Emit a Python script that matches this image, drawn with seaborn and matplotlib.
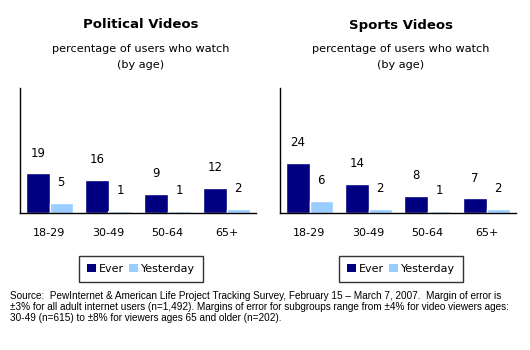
import matplotlib
matplotlib.use("Agg")
import matplotlib.pyplot as plt
import seaborn as sns
import pandas as pd
from matplotlib.patches import Patch

ages = ["18-29", "30-49", "50-64", "65+"]
series = ["Ever", "Yesterday"]
political_ever = [19, 16, 9, 12]
political_yesterday = [5, 1, 1, 2]
sports_ever = [24, 14, 8, 7]
sports_yesterday = [6, 2, 1, 2]
titles = ["Political Videos", "Sports Videos"]
subtitle = "percentage of users who watch\n(by age)"
source = ("Source:  PewInternet & American Life Project Tracking Survey, February 15 \u2013 March 7, 2007.  Margin of error is\n"
          "\u00b13% for all adult internet users (n=1,492). Margins of error for subgroups range from \u00b14% for video viewers ages:\n"
          "30-49 (n=615) to \u00b18% for viewers ages 65 and older (n=202).")

colors = ["#000080", "#99CCFF"]

sns.set_theme(style="white")
plt.rcParams['font.family'] = ['DejaVu Sans']
plt.rcParams['text.color'] = 'black'
plt.rcParams['xtick.color'] = 'black'

fig = plt.figure(figsize=(5.3, 3.5), dpi=100)

panels = [(political_ever, political_yesterday), (sports_ever, sports_yesterday)]
lefts = [20 / 530, 280 / 530]
width = 236 / 530
bottom = 1 - 213 / 350
height = 125 / 350

for i, (ever, yest) in enumerate(panels):
    df = pd.DataFrame({
        "age": ages * 2,
        "series": [series[0]] * 4 + [series[1]] * 4,
        "value": ever + yest,
    })
    ax = fig.add_axes([lefts[i], bottom, width, height])
    sns.barplot(data=df, x="age", y="value", hue="series", palette=colors,
                width=0.78, ax=ax, saturation=1, legend=False, order=ages,
                hue_order=series)
    for c in ax.containers:
        ax.bar_label(c, labels=[f"{v:g}" for v in c.datavalues], padding=10,
                     fontsize=8.5, color="black")
    ax.set_ylim(0, 60)
    ax.set_xlim(-0.5, 3.5)
    ax.set_xlabel("")
    ax.set_ylabel("")
    ax.set_yticks([])
    ax.tick_params(axis="x", length=0, pad=11, labelsize=8, colors="black")
    for s in ["top", "right"]:
        ax.spines[s].set_visible(False)
    for s in ["left", "bottom"]:
        ax.spines[s].set_color("black")
        ax.spines[s].set_linewidth(1.0)
    cx = lefts[i] + width / 2 + 3 / 530
    fig.text(cx, 1 - 25 / 350, titles[i], ha="center", va="center",
             fontsize=9.5, fontweight="bold", color="black")
    fig.text(cx, 1 - 57.5 / 350, subtitle, ha="center", va="center",
             fontsize=8.1, linespacing=1.75, color="black")
    handles = [Patch(facecolor=colors[0], edgecolor="none", label=series[0]),
               Patch(facecolor=colors[1], edgecolor="none", label=series[1])]
    leg = fig.legend(handles=handles, loc="center",
                     bbox_to_anchor=(cx, 1 - 269 / 350), ncol=2, frameon=True,
                     fontsize=8, handlelength=0.8, handleheight=0.8,
                     handletextpad=0.25, columnspacing=0.5, borderpad=0.75,
                     borderaxespad=0, fancybox=False)
    leg.get_frame().set_edgecolor("black")
    leg.get_frame().set_linewidth(1.0)
    for t in leg.get_texts():
        t.set_color("black")

fig.text(10 / 530, 1 - 307 / 350, source, ha="left", va="center",
         fontsize=7.2, family="Liberation Sans", linespacing=1.15, color="black")

fig.savefig("out.png", dpi=100)
